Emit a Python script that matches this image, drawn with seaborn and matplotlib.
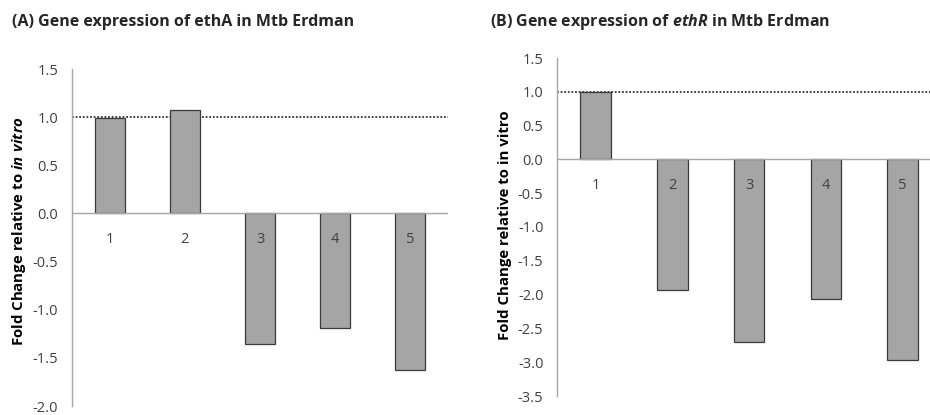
import matplotlib
matplotlib.use("Agg")
import matplotlib.pyplot as plt
import matplotlib.ticker as mticker
import seaborn as sns
import pandas as pd

# Conditions (category labels) and fold-change values for each gene
conditions = ["1", "2", "3", "4", "5"]
etha_fold = [0.99, 1.07, -1.36, -1.19, -1.625]
ethr_fold = [1.00, -1.93, -2.70, -2.06, -2.97]

etha_ticks = [1.5, 1.0, 0.5, 0.0, -0.5, -1.0, -1.5, -2.0]
ethr_ticks = [1.5, 1.0, 0.5, 0.0, -0.5, -1.0, -1.5, -2.0, -2.5, -3.0, -3.5]
reference_level = 1.0

sns.set_theme(style="white")
plt.rcParams["font.family"] = ["Open Sans", "DejaVu Sans"]
plt.rcParams["axes.unicode_minus"] = False
plt.rcParams["mathtext.fontset"] = "custom"
plt.rcParams["mathtext.bfit"] = "Open Sans:bold:italic"

BAR = "#a5a5a5"
EDGE = "#3a3a3a"
AXIS = "#a6a6a6"
TEXT = "#404040"

fig = plt.figure(figsize=(9.3, 4.15), dpi=100)
ax_a = fig.add_axes([72 / 930, 1 - 406 / 415, (448 - 72) / 930, (406 - 69) / 415])
ax_b = fig.add_axes([557.3 / 930, 1 - 396 / 415, (941 - 557.3) / 930, (396 - 58) / 415])


def draw_panel(ax, values, ticks, ylab_italic):
    df = pd.DataFrame({"condition": conditions, "fold": values})
    sns.barplot(data=df, x="condition", y="fold", ax=ax, color=BAR,
                saturation=1, width=0.4, edgecolor=EDGE, linewidth=0.9,
                zorder=2)
    ax.set_xlim(-0.5, len(conditions) - 0.5)
    ax.set_ylim(min(ticks), max(ticks))
    ax.set_yticks(ticks)
    ax.yaxis.set_major_formatter(mticker.FormatStrFormatter("%.1f"))
    ax.tick_params(axis="y", length=0, pad=10, labelsize=10.5, labelcolor=TEXT)
    ax.set_xticks([])
    ax.set_xlabel("")
    for side in ("top", "right", "bottom"):
        ax.spines[side].set_visible(False)
    ax.spines["left"].set_color(AXIS)
    ax.spines["left"].set_linewidth(1.0)
    ax.axhline(0, color=AXIS, lw=1.0, zorder=3)
    ax.axhline(reference_level, color="#333333", lw=1.3, ls=(0, (1, 1)),
               zorder=1)
    for i, lab in enumerate(conditions):
        ax.annotate(lab, (i, 0), xytext=(0, -18.7), textcoords="offset points",
                    ha="center", va="center", fontsize=10.5, color=TEXT)
    if ylab_italic:
        ylab = r"Fold Change relative to $\mathbfit{in\ vitro}$"
    else:
        ylab = "Fold Change relative to in vitro"
    ax.set_ylabel(ylab, fontsize=10.8, fontweight="bold", color="black",
                  va="center")
    ax.set_facecolor("white")


draw_panel(ax_a, etha_fold, etha_ticks, True)
draw_panel(ax_b, ethr_fold, ethr_ticks, False)
ax_a.yaxis.set_label_coords(-(72 - 19) / 376, (406 - 231) / 337)
ax_b.yaxis.set_label_coords(-(557.3 - 505) / 383.7, (396 - 225) / 338)

fig.text(12 / 930, 1 - 22 / 415,
         "(A) Gene expression of ethA in Mtb Erdman",
         fontsize=11.5, fontweight="bold", va="center", ha="left")
fig.text(490 / 930, 1 - 22 / 415,
         r"(B) Gene expression of $\mathbfit{ethR}$ in Mtb Erdman",
         fontsize=11.5, fontweight="bold", va="center", ha="left")

fig.savefig("out.png", dpi=100)
